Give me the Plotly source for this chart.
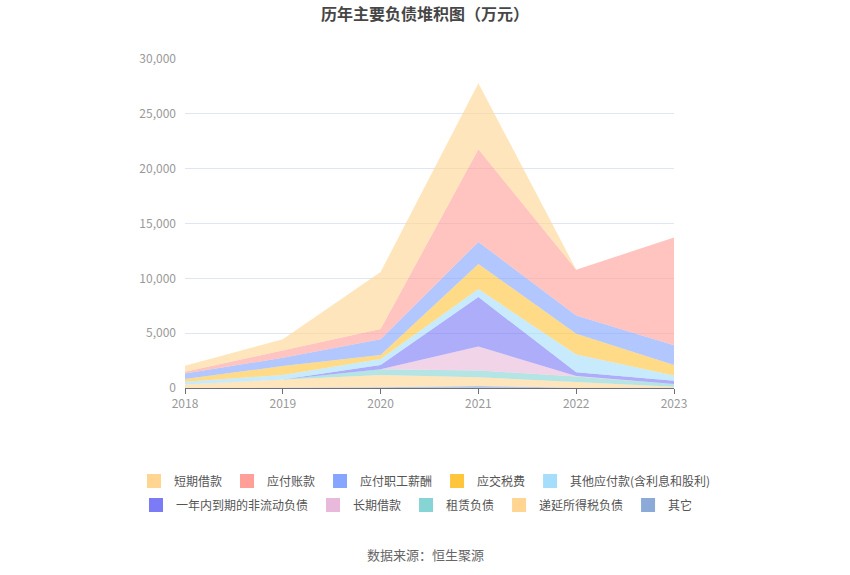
import plotly.graph_objects as go

years = [2018, 2019, 2020, 2021, 2022, 2023]

# values (万元), listed per series
short_loan = [550, 1050, 5210, 6030, 0, 0]          # 短期借款
accounts_payable = [150, 650, 920, 8450, 4170, 9820]  # 应付账款
salary_payable = [510, 750, 1430, 2010, 1680, 1800]  # 应付职工薪酬
tax_payable = [240, 820, 370, 2290, 1890, 970]       # 应交税费
other_payable = [250, 400, 550, 730, 1620, 460]      # 其他应付款(含利息和股利)
current_noncurrent = [0, 0, 390, 4510, 330, 300]     # 一年内到期的非流动负债
long_loan = [0, 0, 0, 2190, 50, 0]                    # 长期借款
lease_liab = [0, 0, 520, 610, 500, 250]              # 租赁负债
deferred_tax = [330, 780, 1130, 800, 520, 100]       # 递延所得税负债
others = [0, 0, 60, 180, 30, 20]                     # 其它

series = [
    ("短期借款", short_loan, (255, 213, 145), "legend"),
    ("应付账款", accounts_payable, (255, 159, 151), "legend"),
    ("应付职工薪酬", salary_payable, (133, 165, 255), "legend"),
    ("应交税费", tax_payable, (255, 197, 61), "legend"),
    ("其他应付款(含利息和股利)", other_payable, (165, 222, 250), "legend"),
    ("一年内到期的非流动负债", current_noncurrent, (123, 123, 245), "legend2"),
    ("长期借款", long_loan, (232, 185, 218), "legend2"),
    ("租赁负债", lease_liab, (134, 212, 212), "legend2"),
    ("递延所得税负债", deferred_tax, (255, 213, 145), "legend2"),
    ("其它", others, (139, 170, 216), "legend2"),
]

fig = go.Figure()
for name, vals, (r, g, b), lg in reversed(series):
    fig.add_trace(go.Scatter(
        x=years, y=vals, name=name, mode="lines",
        stackgroup="one",
        line=dict(width=0, color=f"rgb({r},{g},{b})"),
        fillcolor=f"rgba({r},{g},{b},0.62)",
        legendgroup=name, showlegend=False,
        hovertemplate="%{x}: %{y:,}<extra>" + name + "</extra>",
    ))
# legend entries (solid swatches) linked to the area traces
for name, vals, (r, g, b), lg in reversed(series):
    fig.add_trace(go.Scatter(
        x=[None], y=[None], name=name, mode="markers",
        marker=dict(symbol="square", size=14, color=f"rgb({r},{g},{b})",
                    line=dict(width=0)),
        legendgroup=name, showlegend=True, legend=lg,
    ))

W, ML, MR = 850, 20, 20
PW = W - ML - MR


def px_x(p):
    return (p - ML) / PW


font_cn = "Noto Sans CJK SC"
fig.update_layout(
    width=850, height=575,
    margin=dict(l=ML, r=MR, t=59, b=187, autoexpand=False),
    paper_bgcolor="white", plot_bgcolor="white",
    font=dict(family=font_cn, size=12, color="#666"),
    title=dict(text="<b>历年主要负债堆积图（万元）</b>", x=0.5, xanchor="center",
               y=1 - 14 / 575, yanchor="middle",
               font=dict(family=font_cn, size=16, color="#464646")),
    showlegend=True,
    legend=dict(orientation="h", x=px_x(425), xanchor="center",
                y=(388 - 481) / 329, yanchor="middle", traceorder="reversed",
                font=dict(family=font_cn, size=12, color="#555"), itemwidth=30),
    legend2=dict(orientation="h", x=px_x(417), xanchor="center",
                 y=(388 - 505) / 329, yanchor="middle", traceorder="reversed",
                 font=dict(family=font_cn, size=12, color="#555"), itemwidth=30),
    annotations=[dict(text="数据来源：恒生聚源", x=px_x(425), xref="paper",
                      y=(388 - 554) / 329, yref="paper", showarrow=False,
                      xanchor="center", yanchor="middle",
                      font=dict(family=font_cn, size=13, color="#666"))],
)
fig.update_xaxes(domain=[px_x(185), px_x(674)], automargin=False,
                 range=[2018, 2023], tickvals=years, ticktext=[str(y) for y in years],
                 showgrid=False, showline=True, linecolor="#6E7079", linewidth=1,
                 ticks="outside", ticklen=5, tickcolor="#6E7079",
                 tickfont=dict(color="#999", size=12), zeroline=False)
fig.update_yaxes(range=[0, 30000], tickvals=[0, 5000, 10000, 15000, 20000, 25000, 30000],
                 automargin=False,
                 tickformat=",", showgrid=True, gridcolor="#E0E6F1", showline=False,
                 zeroline=False, tickfont=dict(color="#999", size=12), ticks="",
                 ticklabelstandoff=8)

fig.write_html("out.html")
